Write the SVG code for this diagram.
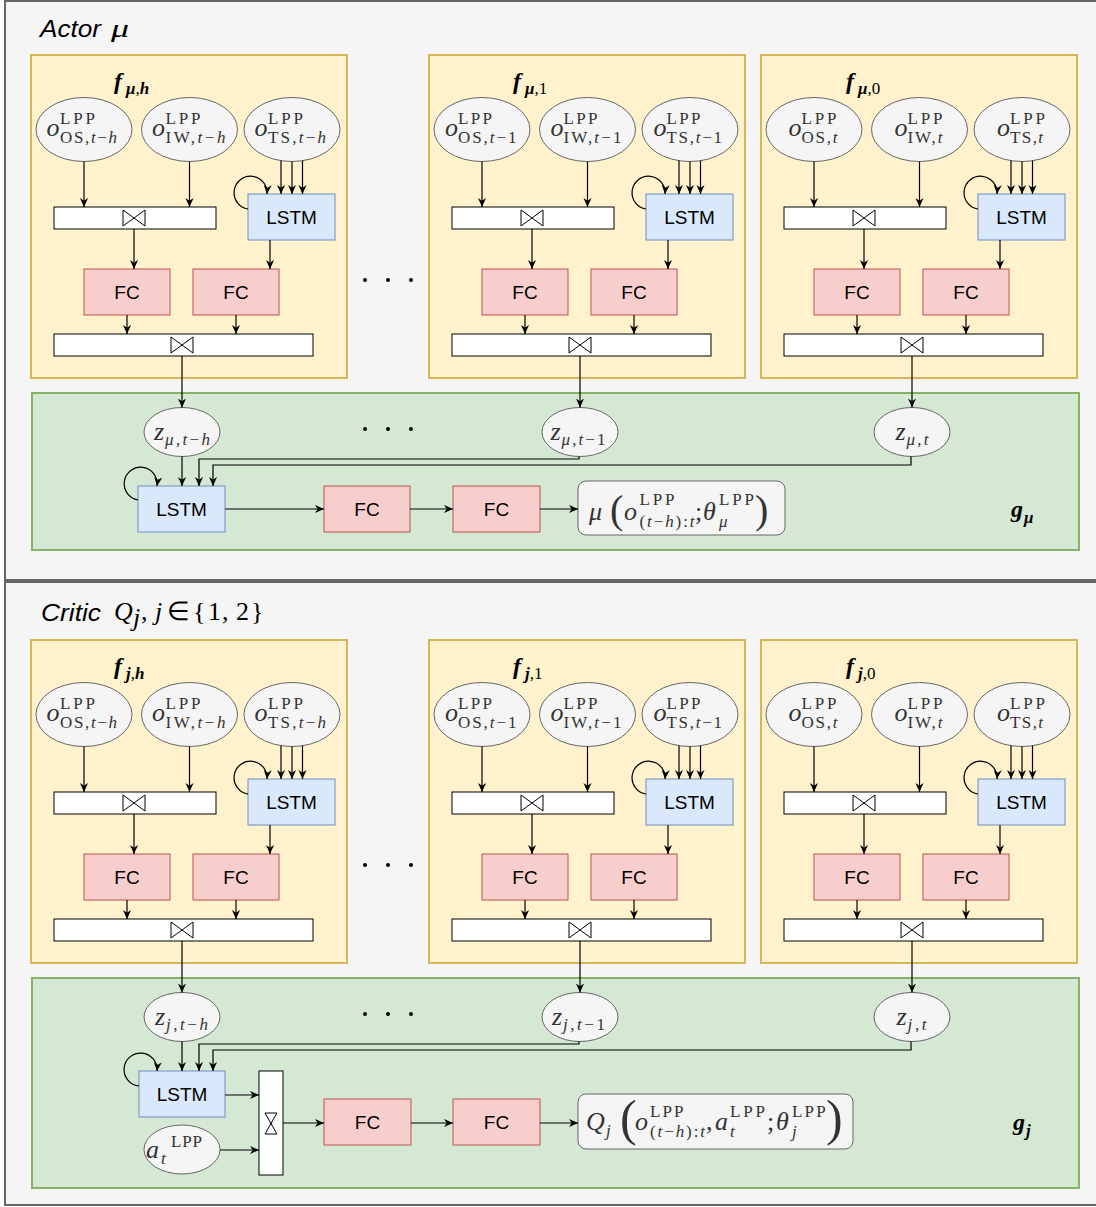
<svg xmlns="http://www.w3.org/2000/svg" width="1096" height="1207" viewBox="0 0 1096 1207">
<defs>
<marker id="ah" viewBox="0 0 10 10" refX="10" refY="5" markerWidth="9" markerHeight="9" orient="auto" markerUnits="userSpaceOnUse"><path d="M0,0.5 L10,5 L0,9.5 L3,5 z" fill="#000"/></marker>
<style>
.panel{fill:#f5f5f5;stroke:#666;stroke-width:2}
.ybox{fill:#fff2cc;stroke:#d6b656;stroke-width:2}
.gbox{fill:#d5e8d4;stroke:#82b366;stroke-width:2}
.el{fill:#f5f5f5;stroke:#666;stroke-width:1}
.lstm{fill:#dae8fc;stroke:#6c8ebf;stroke-width:1}
.fc{fill:#f8cecc;stroke:#b85450;stroke-width:1}
.bar{fill:#fff;stroke:#000;stroke-width:1}
.bt{fill:#fff;stroke:#000;stroke-width:1}
.out{fill:#f5f5f5;stroke:#666;stroke-width:1}
.c{fill:none;stroke:#000;stroke-width:1.2;marker-end:url(#ah)}
.sa{font-family:"Liberation Sans",Arial,sans-serif;font-size:19px;text-anchor:middle;fill:#000}
.ttl{font-family:"Liberation Sans",Arial,sans-serif;font-size:24px;font-style:italic;fill:#000}
.mi{font-family:"Liberation Serif","Times New Roman",serif;font-style:italic;font-size:26px;fill:#333}
.mr{font-family:"Liberation Serif","Times New Roman",serif;font-size:26px;fill:#333}
.sc{font-family:"Liberation Serif","Times New Roman",serif;font-size:17px;fill:#333}
.it{font-style:italic}
.fb{font-family:"Liberation Serif","Times New Roman",serif;font-style:italic;font-weight:bold;font-size:24px;fill:#000}
.fs{font-family:"Liberation Serif","Times New Roman",serif;font-style:italic;font-weight:bold;font-size:17px;fill:#000}
.tm{font-family:"Liberation Serif","Times New Roman",serif;font-style:italic;font-size:26px;fill:#000}
.tr{font-family:"Liberation Serif","Times New Roman",serif;font-size:26px;fill:#000}
.par{font-family:"Liberation Serif","Times New Roman",serif;fill:#333}
</style>
</defs>

<g id="panels">
<rect class="panel" x="5" y="1" width="1100" height="579"/>
<rect class="panel" x="5" y="582" width="1100" height="623"/>
<text class="ttl" x="40" y="37" textLength="61" lengthAdjust="spacingAndGlyphs">Actor</text>
<text class="tm" x="111" y="37" font-size="30" textLength="18" lengthAdjust="spacingAndGlyphs">μ</text>
<text class="ttl" x="41" y="621" textLength="60" lengthAdjust="spacingAndGlyphs">Critic</text>
<text class="tm" x="114" y="620">Q</text>
<text class="tm" x="133" y="626" font-size="18">j</text>
<text class="tr" x="141" y="620">,</text>
<text class="tm" x="155" y="620">j</text>
<text class="tr" x="167" y="620">∈</text>
<text class="tr" x="193" y="620">{</text>
<text class="tr" x="208" y="620">1</text>
<text class="tr" x="222" y="620">,</text>
<text class="tr" x="236" y="620">2</text>
<text class="tr" x="251" y="620">}</text>
</g>

<!-- ===== Actor encoders ===== -->
<g id="f_mu_h">
<rect class="ybox" x="31" y="55" width="316" height="323"/>
<text class="fb" x="114" y="89">f</text><text class="fs" x="126" y="94">μ<tspan font-style="normal" font-weight="normal">,</tspan>h</text>
<g id="o_os_mu_th"><ellipse class="el" cx="84" cy="129.5" rx="48" ry="32"/><text class="mi" x="46.5" y="136">o</text><text class="sc" x="60" y="124" textLength="35">LPP</text><text class="sc" x="60" y="143" textLength="57">OS,<tspan class="it">t</tspan>−<tspan class="it">h</tspan></text></g>
<g id="o_iw_mu_th"><ellipse class="el" cx="189.5" cy="129.5" rx="48" ry="32"/><text class="mi" x="152" y="136">o</text><text class="sc" x="165.5" y="124" textLength="35">LPP</text><text class="sc" x="165.5" y="143" textLength="60">IW,<tspan class="it">t</tspan>−<tspan class="it">h</tspan></text></g>
<g id="o_ts_mu_th"><ellipse class="el" cx="292" cy="129.5" rx="48" ry="32"/><text class="mi" x="254.5" y="136">o</text><text class="sc" x="268" y="124" textLength="35">LPP</text><text class="sc" x="268" y="143" textLength="58">TS,<tspan class="it">t</tspan>−<tspan class="it">h</tspan></text></g>
<g id="cat1_mu_h"><rect class="bar" x="54" y="207" width="162" height="22"/><path class="bt" d="M123,210 L145,226 L145,210 L123,226 Z"/></g>
<g id="lstm_mu_h"><rect class="lstm" x="248" y="194" width="87" height="46"/><text class="sa" x="291.5" y="223.5">LSTM</text></g>
<g id="fc1_mu_h"><rect class="fc" x="84" y="269" width="86" height="46"/><text class="sa" x="127" y="298.5">FC</text></g>
<g id="fc2_mu_h"><rect class="fc" x="193" y="269" width="86" height="46"/><text class="sa" x="236" y="298.5">FC</text></g>
<g id="cat2_mu_h"><rect class="bar" x="54" y="334" width="259" height="22"/><path class="bt" d="M171,337 L193,353 L193,337 L171,353 Z"/></g>
</g>

<g id="f_mu_1" transform="translate(398,0)">
<rect class="ybox" x="31" y="55" width="316" height="323"/>
<text class="fb" x="115" y="89">f</text><text class="fs" x="127" y="94">μ<tspan font-style="normal" font-weight="normal">,1</tspan></text>
<g id="o_os_mu_t1"><ellipse class="el" cx="84" cy="129.5" rx="48" ry="32"/><text class="mi" x="47" y="136">o</text><text class="sc" x="60" y="124" textLength="34">LPP</text><text class="sc" x="60" y="143" textLength="58.5">OS,<tspan class="it">t</tspan>−1</text></g>
<g id="o_iw_mu_t1"><ellipse class="el" cx="189.5" cy="129.5" rx="48" ry="32"/><text class="mi" x="152.5" y="136">o</text><text class="sc" x="165.5" y="124" textLength="34">LPP</text><text class="sc" x="165.5" y="143" textLength="58">IW,<tspan class="it">t</tspan>−1</text></g>
<g id="o_ts_mu_t1"><ellipse class="el" cx="292" cy="129.5" rx="48" ry="32"/><text class="mi" x="255.5" y="136">o</text><text class="sc" x="268.5" y="124" textLength="34">LPP</text><text class="sc" x="268.5" y="143" textLength="55.5">TS,<tspan class="it">t</tspan>−1</text></g>
<g id="cat1_mu_1"><rect class="bar" x="54" y="207" width="162" height="22"/><path class="bt" d="M123,210 L145,226 L145,210 L123,226 Z"/></g>
<g id="lstm_mu_1"><rect class="lstm" x="248" y="194" width="87" height="46"/><text class="sa" x="291.5" y="223.5">LSTM</text></g>
<g id="fc1_mu_1"><rect class="fc" x="84" y="269" width="86" height="46"/><text class="sa" x="127" y="298.5">FC</text></g>
<g id="fc2_mu_1"><rect class="fc" x="193" y="269" width="86" height="46"/><text class="sa" x="236" y="298.5">FC</text></g>
<g id="cat2_mu_1"><rect class="bar" x="54" y="334" width="259" height="22"/><path class="bt" d="M171,337 L193,353 L193,337 L171,353 Z"/></g>
</g>

<g id="f_mu_0" transform="translate(730,0)">
<rect class="ybox" x="31" y="55" width="316" height="323"/>
<text class="fb" x="116" y="89">f</text><text class="fs" x="128" y="94">μ<tspan font-style="normal" font-weight="normal">,0</tspan></text>
<g id="o_os_mu_t"><ellipse class="el" cx="84" cy="129.5" rx="48" ry="32"/><text class="mi" x="58.5" y="136">o</text><text class="sc" x="71.5" y="124" textLength="35">LPP</text><text class="sc" x="71.5" y="143" textLength="36">OS,<tspan class="it">t</tspan></text></g>
<g id="o_iw_mu_t"><ellipse class="el" cx="189.5" cy="129.5" rx="48" ry="32"/><text class="mi" x="164.5" y="136">o</text><text class="sc" x="177.5" y="124" textLength="35">LPP</text><text class="sc" x="177.5" y="143" textLength="35">IW,<tspan class="it">t</tspan></text></g>
<g id="o_ts_mu_t"><ellipse class="el" cx="292" cy="129.5" rx="48" ry="32"/><text class="mi" x="267" y="136">o</text><text class="sc" x="280" y="124" textLength="35">LPP</text><text class="sc" x="280" y="143" textLength="33">TS,<tspan class="it">t</tspan></text></g>
<g id="cat1_mu_0"><rect class="bar" x="54" y="207" width="162" height="22"/><path class="bt" d="M123,210 L145,226 L145,210 L123,226 Z"/></g>
<g id="lstm_mu_0"><rect class="lstm" x="248" y="194" width="87" height="46"/><text class="sa" x="291.5" y="223.5">LSTM</text></g>
<g id="fc1_mu_0"><rect class="fc" x="84" y="269" width="86" height="46"/><text class="sa" x="127" y="298.5">FC</text></g>
<g id="fc2_mu_0"><rect class="fc" x="193" y="269" width="86" height="46"/><text class="sa" x="236" y="298.5">FC</text></g>
<g id="cat2_mu_0"><rect class="bar" x="54" y="334" width="259" height="22"/><path class="bt" d="M171,337 L193,353 L193,337 L171,353 Z"/></g>
</g>

<g id="dots_top" fill="#000"><circle cx="365" cy="280" r="2"/><circle cx="388" cy="280" r="2"/><circle cx="411" cy="280" r="2"/></g>

<!-- ===== Actor g_mu ===== -->
<g id="g_mu">
<rect class="gbox" x="32" y="393" width="1047" height="157"/>
<text class="fb" x="1011" y="517">g</text><text class="fs" x="1024" y="523">μ</text>
</g>
<g id="z_mu_th"><ellipse class="el" cx="182" cy="432" rx="38" ry="24.5"/><text class="mi" x="154" y="440">z</text><text class="sc" x="165" y="445" textLength="45"><tspan class="it">μ</tspan>,<tspan class="it">t</tspan>−<tspan class="it">h</tspan></text></g>
<g id="z_mu_t1"><ellipse class="el" cx="580" cy="432" rx="38" ry="24.5"/><text class="mi" x="550.5" y="440">z</text><text class="sc" x="561.5" y="445" textLength="44"><tspan class="it">μ</tspan>,<tspan class="it">t</tspan>−1</text></g>
<g id="z_mu_t"><ellipse class="el" cx="912" cy="432" rx="38" ry="24.5"/><text class="mi" x="895.5" y="440">z</text><text class="sc" x="906.5" y="445" textLength="22"><tspan class="it">μ</tspan>,<tspan class="it">t</tspan></text></g>
<g id="dots_mu" fill="#000"><circle cx="365" cy="429" r="2"/><circle cx="388" cy="429" r="2"/><circle cx="411" cy="429" r="2"/></g>
<g id="lstm_g_mu"><rect class="lstm" x="138" y="486" width="87" height="46"/><text class="sa" x="181.5" y="515.5">LSTM</text></g>
<g id="fc1_g_mu"><rect class="fc" x="324" y="486" width="86" height="46"/><text class="sa" x="367" y="515.5">FC</text></g>
<g id="fc2_g_mu"><rect class="fc" x="453" y="486" width="87" height="46"/><text class="sa" x="496.5" y="515.5">FC</text></g>
<g id="out_mu">
<rect class="out" x="578" y="481" width="207" height="54" rx="8"/>
<text class="mi" x="589" y="520">μ</text>
<text class="par" x="610" y="523" font-size="40">(</text>
<text class="mi" x="624" y="520">o</text>
<text class="sc" x="639.5" y="505" textLength="35">LPP</text>
<text class="sc" x="639.5" y="527" textLength="55">(<tspan class="it">t</tspan>−<tspan class="it">h</tspan>):<tspan class="it">t</tspan></text>
<text class="mr" x="695" y="520">;</text>
<text class="mi" x="703" y="520">θ</text>
<text class="sc" x="719" y="505" textLength="35">LPP</text>
<text class="sc it" x="719" y="527">μ</text>
<text class="par" x="755" y="523" font-size="40">)</text>
</g>

<!-- ===== Critic encoders ===== -->
<g id="f_j_h" transform="translate(0,585)">
<rect class="ybox" x="31" y="55" width="316" height="323"/>
<text class="fb" x="114" y="89">f</text><text class="fs" x="126" y="94">j<tspan font-style="normal" font-weight="normal">,</tspan>h</text>
<g id="o_os_j_th"><ellipse class="el" cx="84" cy="129.5" rx="48" ry="32"/><text class="mi" x="46.5" y="136">o</text><text class="sc" x="60" y="124" textLength="35">LPP</text><text class="sc" x="60" y="143" textLength="57">OS,<tspan class="it">t</tspan>−<tspan class="it">h</tspan></text></g>
<g id="o_iw_j_th"><ellipse class="el" cx="189.5" cy="129.5" rx="48" ry="32"/><text class="mi" x="152" y="136">o</text><text class="sc" x="165.5" y="124" textLength="35">LPP</text><text class="sc" x="165.5" y="143" textLength="60">IW,<tspan class="it">t</tspan>−<tspan class="it">h</tspan></text></g>
<g id="o_ts_j_th"><ellipse class="el" cx="292" cy="129.5" rx="48" ry="32"/><text class="mi" x="254.5" y="136">o</text><text class="sc" x="268" y="124" textLength="35">LPP</text><text class="sc" x="268" y="143" textLength="58">TS,<tspan class="it">t</tspan>−<tspan class="it">h</tspan></text></g>
<g id="cat1_j_h"><rect class="bar" x="54" y="207" width="162" height="22"/><path class="bt" d="M123,210 L145,226 L145,210 L123,226 Z"/></g>
<g id="lstm_j_h"><rect class="lstm" x="248" y="194" width="87" height="46"/><text class="sa" x="291.5" y="223.5">LSTM</text></g>
<g id="fc1_j_h"><rect class="fc" x="84" y="269" width="86" height="46"/><text class="sa" x="127" y="298.5">FC</text></g>
<g id="fc2_j_h"><rect class="fc" x="193" y="269" width="86" height="46"/><text class="sa" x="236" y="298.5">FC</text></g>
<g id="cat2_j_h"><rect class="bar" x="54" y="334" width="259" height="22"/><path class="bt" d="M171,337 L193,353 L193,337 L171,353 Z"/></g>
</g>

<g id="f_j_1" transform="translate(398,585)">
<rect class="ybox" x="31" y="55" width="316" height="323"/>
<text class="fb" x="115" y="89">f</text><text class="fs" x="127" y="94">j<tspan font-style="normal" font-weight="normal">,1</tspan></text>
<g id="o_os_j_t1"><ellipse class="el" cx="84" cy="129.5" rx="48" ry="32"/><text class="mi" x="47" y="136">o</text><text class="sc" x="60" y="124" textLength="34">LPP</text><text class="sc" x="60" y="143" textLength="58.5">OS,<tspan class="it">t</tspan>−1</text></g>
<g id="o_iw_j_t1"><ellipse class="el" cx="189.5" cy="129.5" rx="48" ry="32"/><text class="mi" x="152.5" y="136">o</text><text class="sc" x="165.5" y="124" textLength="34">LPP</text><text class="sc" x="165.5" y="143" textLength="58">IW,<tspan class="it">t</tspan>−1</text></g>
<g id="o_ts_j_t1"><ellipse class="el" cx="292" cy="129.5" rx="48" ry="32"/><text class="mi" x="255.5" y="136">o</text><text class="sc" x="268.5" y="124" textLength="34">LPP</text><text class="sc" x="268.5" y="143" textLength="55.5">TS,<tspan class="it">t</tspan>−1</text></g>
<g id="cat1_j_1"><rect class="bar" x="54" y="207" width="162" height="22"/><path class="bt" d="M123,210 L145,226 L145,210 L123,226 Z"/></g>
<g id="lstm_j_1"><rect class="lstm" x="248" y="194" width="87" height="46"/><text class="sa" x="291.5" y="223.5">LSTM</text></g>
<g id="fc1_j_1"><rect class="fc" x="84" y="269" width="86" height="46"/><text class="sa" x="127" y="298.5">FC</text></g>
<g id="fc2_j_1"><rect class="fc" x="193" y="269" width="86" height="46"/><text class="sa" x="236" y="298.5">FC</text></g>
<g id="cat2_j_1"><rect class="bar" x="54" y="334" width="259" height="22"/><path class="bt" d="M171,337 L193,353 L193,337 L171,353 Z"/></g>
</g>

<g id="f_j_0" transform="translate(730,585)">
<rect class="ybox" x="31" y="55" width="316" height="323"/>
<text class="fb" x="116" y="89">f</text><text class="fs" x="128" y="94">j<tspan font-style="normal" font-weight="normal">,0</tspan></text>
<g id="o_os_j_t"><ellipse class="el" cx="84" cy="129.5" rx="48" ry="32"/><text class="mi" x="58.5" y="136">o</text><text class="sc" x="71.5" y="124" textLength="35">LPP</text><text class="sc" x="71.5" y="143" textLength="36">OS,<tspan class="it">t</tspan></text></g>
<g id="o_iw_j_t"><ellipse class="el" cx="189.5" cy="129.5" rx="48" ry="32"/><text class="mi" x="164.5" y="136">o</text><text class="sc" x="177.5" y="124" textLength="35">LPP</text><text class="sc" x="177.5" y="143" textLength="35">IW,<tspan class="it">t</tspan></text></g>
<g id="o_ts_j_t"><ellipse class="el" cx="292" cy="129.5" rx="48" ry="32"/><text class="mi" x="267" y="136">o</text><text class="sc" x="280" y="124" textLength="35">LPP</text><text class="sc" x="280" y="143" textLength="33">TS,<tspan class="it">t</tspan></text></g>
<g id="cat1_j_0"><rect class="bar" x="54" y="207" width="162" height="22"/><path class="bt" d="M123,210 L145,226 L145,210 L123,226 Z"/></g>
<g id="lstm_j_0"><rect class="lstm" x="248" y="194" width="87" height="46"/><text class="sa" x="291.5" y="223.5">LSTM</text></g>
<g id="fc1_j_0"><rect class="fc" x="84" y="269" width="86" height="46"/><text class="sa" x="127" y="298.5">FC</text></g>
<g id="fc2_j_0"><rect class="fc" x="193" y="269" width="86" height="46"/><text class="sa" x="236" y="298.5">FC</text></g>
<g id="cat2_j_0"><rect class="bar" x="54" y="334" width="259" height="22"/><path class="bt" d="M171,337 L193,353 L193,337 L171,353 Z"/></g>
</g>

<g id="dots_top_j" fill="#000"><circle cx="365" cy="865" r="2"/><circle cx="388" cy="865" r="2"/><circle cx="411" cy="865" r="2"/></g>

<!-- ===== Critic g_j ===== -->
<g id="g_j">
<rect class="gbox" x="32" y="978" width="1047" height="210"/>
<text class="fb" x="1013" y="1130">g</text><text class="fs" x="1026" y="1136">j</text>
</g>
<g id="z_j_th"><ellipse class="el" cx="182" cy="1017" rx="38" ry="24.5"/><text class="mi" x="155" y="1025">z</text><text class="sc" x="166" y="1030" textLength="42"><tspan class="it">j</tspan>,<tspan class="it">t</tspan>−<tspan class="it">h</tspan></text></g>
<g id="z_j_t1"><ellipse class="el" cx="580" cy="1017" rx="38" ry="24.5"/><text class="mi" x="552" y="1025">z</text><text class="sc" x="563" y="1030" textLength="42"><tspan class="it">j</tspan>,<tspan class="it">t</tspan>−1</text></g>
<g id="z_j_t"><ellipse class="el" cx="912" cy="1017" rx="38" ry="24.5"/><text class="mi" x="896.5" y="1025">z</text><text class="sc" x="907.5" y="1030" textLength="19"><tspan class="it">j</tspan>,<tspan class="it">t</tspan></text></g>
<g id="dots_j" fill="#000"><circle cx="365" cy="1014" r="2"/><circle cx="388" cy="1014" r="2"/><circle cx="411" cy="1014" r="2"/></g>
<g id="lstm_g_j"><rect class="lstm" x="139" y="1071" width="86" height="46"/><text class="sa" x="182" y="1100.5">LSTM</text></g>
<g id="cat_g_j"><rect class="bar" x="259" y="1071" width="24" height="104"/><path class="bt" d="M265,1113 L277,1113 L265,1134 L277,1134 Z"/></g>
<g id="a_t"><ellipse class="el" cx="182" cy="1149.5" rx="38" ry="24.5"/><text class="mi" x="146" y="1158">a</text><text class="sc" x="171" y="1147" textLength="31">LPP</text><text class="sc it" x="161" y="1164">t</text></g>
<g id="fc1_g_j"><rect class="fc" x="324" y="1099" width="87" height="46"/><text class="sa" x="367.5" y="1128.5">FC</text></g>
<g id="fc2_g_j"><rect class="fc" x="453" y="1099" width="87" height="46"/><text class="sa" x="496.5" y="1128.5">FC</text></g>
<g id="out_j">
<rect class="out" x="578" y="1094" width="275" height="55" rx="8"/>
<text class="mi" x="586" y="1130">Q</text>
<text class="sc it" x="606" y="1136">j</text>
<text class="par" x="620" y="1135" font-size="50">(</text>
<text class="mi" x="635" y="1130">o</text>
<text class="sc" x="650" y="1117" textLength="33.5">LPP</text>
<text class="sc" x="650" y="1137" textLength="55">(<tspan class="it">t</tspan>−<tspan class="it">h</tspan>):<tspan class="it">t</tspan></text>
<text class="mr" x="706" y="1130">,</text>
<text class="mi" x="715" y="1130">a</text>
<text class="sc" x="730" y="1117" textLength="35">LPP</text>
<text class="sc it" x="730" y="1137">t</text>
<text class="mr" x="767" y="1130">;</text>
<text class="mi" x="776" y="1130">θ</text>
<text class="sc" x="792" y="1117" textLength="33.7">LPP</text>
<text class="sc it" x="792" y="1137">j</text>
<text class="par" x="826" y="1135" font-size="50">)</text>
</g>

<!-- ===== Connectors ===== -->
<g id="connectors">
<g id="conn_boxes_mu_h">
<path class="c" d="M84,161.5 V207"/><path class="c" d="M189.5,161.5 V207"/>
<path class="c" d="M281,160.6 V194"/><path class="c" d="M292,161.5 V194"/><path class="c" d="M302.5,160.6 V194"/>
<path class="c" d="M248,209 A16.5,16.5 0 1 1 267,194"/>
<path class="c" d="M134,229 V269"/><path class="c" d="M270,240 V269"/>
<path class="c" d="M127,315 V334"/><path class="c" d="M236,315 V334"/>
</g>
<g id="conn_boxes_mu_1" transform="translate(398,0)">
<path class="c" d="M84,161.5 V207"/><path class="c" d="M189.5,161.5 V207"/>
<path class="c" d="M281,160.6 V194"/><path class="c" d="M292,161.5 V194"/><path class="c" d="M302.5,160.6 V194"/>
<path class="c" d="M248,209 A16.5,16.5 0 1 1 267,194"/>
<path class="c" d="M134,229 V269"/><path class="c" d="M270,240 V269"/>
<path class="c" d="M127,315 V334"/><path class="c" d="M236,315 V334"/>
</g>
<g id="conn_boxes_mu_0" transform="translate(730,0)">
<path class="c" d="M84,161.5 V207"/><path class="c" d="M189.5,161.5 V207"/>
<path class="c" d="M281,160.6 V194"/><path class="c" d="M292,161.5 V194"/><path class="c" d="M302.5,160.6 V194"/>
<path class="c" d="M248,209 A16.5,16.5 0 1 1 267,194"/>
<path class="c" d="M134,229 V269"/><path class="c" d="M270,240 V269"/>
<path class="c" d="M127,315 V334"/><path class="c" d="M236,315 V334"/>
</g>
<g id="conn_boxes_j_h" transform="translate(0,585)">
<path class="c" d="M84,161.5 V207"/><path class="c" d="M189.5,161.5 V207"/>
<path class="c" d="M281,160.6 V194"/><path class="c" d="M292,161.5 V194"/><path class="c" d="M302.5,160.6 V194"/>
<path class="c" d="M248,209 A16.5,16.5 0 1 1 267,194"/>
<path class="c" d="M134,229 V269"/><path class="c" d="M270,240 V269"/>
<path class="c" d="M127,315 V334"/><path class="c" d="M236,315 V334"/>
</g>
<g id="conn_boxes_j_1" transform="translate(398,585)">
<path class="c" d="M84,161.5 V207"/><path class="c" d="M189.5,161.5 V207"/>
<path class="c" d="M281,160.6 V194"/><path class="c" d="M292,161.5 V194"/><path class="c" d="M302.5,160.6 V194"/>
<path class="c" d="M248,209 A16.5,16.5 0 1 1 267,194"/>
<path class="c" d="M134,229 V269"/><path class="c" d="M270,240 V269"/>
<path class="c" d="M127,315 V334"/><path class="c" d="M236,315 V334"/>
</g>
<g id="conn_boxes_j_0" transform="translate(730,585)">
<path class="c" d="M84,161.5 V207"/><path class="c" d="M189.5,161.5 V207"/>
<path class="c" d="M281,160.6 V194"/><path class="c" d="M292,161.5 V194"/><path class="c" d="M302.5,160.6 V194"/>
<path class="c" d="M248,209 A16.5,16.5 0 1 1 267,194"/>
<path class="c" d="M134,229 V269"/><path class="c" d="M270,240 V269"/>
<path class="c" d="M127,315 V334"/><path class="c" d="M236,315 V334"/>
</g>
<g id="conn_g_mu">
<path class="c" d="M182,356 V407.5"/><path class="c" d="M580,356 V407.5"/><path class="c" d="M912,356 V407.5"/>
<path class="c" d="M182,456.5 V486"/>
<path class="c" d="M579,456.5 V459 H199 V486"/>
<path class="c" d="M911,456.5 V465 H213 V486"/>
<path class="c" d="M138,500 A16.5,16.5 0 1 1 157,486"/>
<path class="c" d="M225,509 H324"/><path class="c" d="M410,509 H453"/><path class="c" d="M540,509 H578"/>
</g>
<g id="conn_g_j">
<path class="c" d="M182,941 V992.5"/><path class="c" d="M580,941 V992.5"/><path class="c" d="M912,941 V992.5"/>
<path class="c" d="M182,1041.5 V1071"/>
<path class="c" d="M579,1041.5 V1044 H199 V1071"/>
<path class="c" d="M911,1041.5 V1050 H213 V1071"/>
<path class="c" d="M139,1086 A16.5,16.5 0 1 1 157,1071"/>
<path class="c" d="M225,1095 H259"/><path class="c" d="M220,1150 H259"/>
<path class="c" d="M283,1123 H324"/><path class="c" d="M411,1123 H453"/><path class="c" d="M540,1123 H578"/>
</g>
</g>
</svg>
